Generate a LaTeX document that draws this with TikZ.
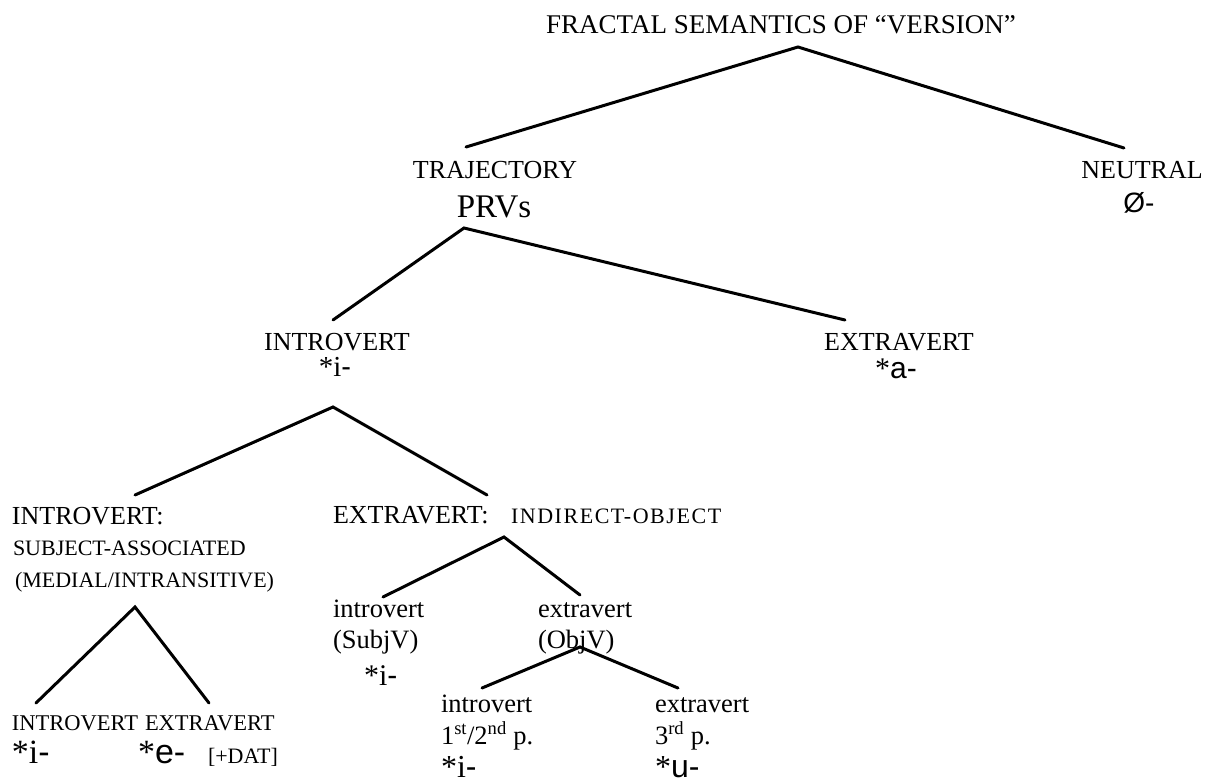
\documentclass[tikz,border=0pt]{standalone}
\usepackage{fontspec}
\setmainfont{Liberation Serif}
\newfontfamily\sa{Liberation Sans}
\newcommand\fs[1]{\fontsize{#1}{#1}\selectfont}
\tikzset{
  lbl/.style={inner sep=0pt, outer sep=0pt, anchor=base, font=\fs{26}},
  lw/.style={inner sep=0pt, outer sep=0pt, anchor=base west},
  lc/.style={lw, font=\fs{26.5}},
  morph/.style={inner sep=0pt, outer sep=0pt, anchor=base, font=\fs{29}},
  branch/.style={line width=3pt, line cap=round, line join=miter}
}
\begin{document}
\begin{tikzpicture}[x=1pt,y=-1pt]
\useasboundingbox (0,0) rectangle (1210,782);
% level 0
\node[lbl, font=\fs{27}] (title) at (781,33) {FRACTAL SEMANTICS OF “VERSION”};
% level 1
\node[lbl] (traj) at (495,178) {TRAJECTORY};
\node[lbl, font=\fs{33}] (prvs) at (494,217) {PRVs};
\node[lbl] (neutral) at (1142,178) {NEUTRAL};
\node[morph, font=\fs{28}] (zero) at (1139,212) {{\sa Ø-}};
% level 2
\node[lbl] (intro) at (337,350) {INTROVERT};
\node[morph] (introm) at (335,376) {*i{\sa -}};
\node[lbl] (extra) at (899,350) {EXTRAVERT};
\node[morph, font=\fs{30}] (extram) at (896,378) {*{\sa a-}};
% level 3 left
\node[lw, font=\fs{26}] (introC) at (12,524) {INTROVERT:};
\node[lw, font=\fs{22}] (subj) at (13,555) {SUBJECT-ASSOCIATED};
\node[lw, font=\fs{22}] (medial) at (15,587) {(MEDIAL/INTRANSITIVE)};
% level 3 right
\node[lw, font=\fs{26}] (extraC) at (333,523) {EXTRAVERT:};
\node[lw, font=\fs{22}\addfontfeature{LetterSpace=7}] (indobj) at (511,523) {INDIRECT-OBJECT};
% level 4 left
\node[lw, font=\fs{22.5}] (llintro) at (12,730) {INTROVERT};
\node[lw, font=\fs{22.5}] (llextra) at (145,730) {EXTRAVERT};
\node[lw, font=\fs{34}] (llim) at (12,763) {*i{\sa -}};
\node[lw, font=\fs{34}] (llem) at (138,763) {*{\sa e-}};
\node[lw, font=\fs{22}] (dat) at (208,763) {[+DAT]};
% level 4 middle
\node[lc] (sintro) at (333,617) {introvert};
\node[lc] (subjv) at (333,648) {(SubjV)};
\node[lw, font=\fs{30}] (sim) at (364,685) {*i{\sa -}};
\node[lc] (sextra) at (538,617) {extravert};
\node[lc] (objv) at (538,648) {(ObjV)};
% level 5
\node[lc] (pintro) at (441,712) {introvert};
\node[lc] (pers12) at (441,744) {1\textsuperscript{st}/2\textsuperscript{nd} p.};
\node[lw, font=\fs{32}] (pim) at (441,777) {*i{\sa -}};
\node[lc] (pextra) at (655,712) {extravert};
\node[lc] (pers3) at (655,744) {3\textsuperscript{rd} p.};
\node[lw, font=\fs{32}] (pum) at (655,777) {*{\sa u-}};
% connector coordinates
\coordinate (t0) at (798,47);
\coordinate (t1) at (466,147);
\coordinate (t2) at (1124,148);
\coordinate (p0) at (464,228);
\coordinate (p1) at (333,320);
\coordinate (p2) at (845,320);
\coordinate (i0) at (333,407);
\coordinate (i1) at (135,495);
\coordinate (i2) at (487,495);
\coordinate (m0) at (135,607);
\coordinate (m1) at (36,703);
\coordinate (m2) at (209,703);
\coordinate (e0) at (504,537);
\coordinate (e1) at (383,597);
\coordinate (e2) at (580,595);
\coordinate (o0) at (580,647);
\coordinate (o1) at (482,688);
\coordinate (o2) at (678,688);
\draw[branch] (t1) -- (t0) -- (t2);
\draw[branch] (p1) -- (p0) -- (p2);
\draw[branch] (i1) -- (i0) -- (i2);
\draw[branch] (m1) -- (m0) -- (m2);
\draw[branch] (e1) -- (e0) -- (e2);
\draw[branch] (o1) -- (o0) -- (o2);
\end{tikzpicture}
\end{document}
